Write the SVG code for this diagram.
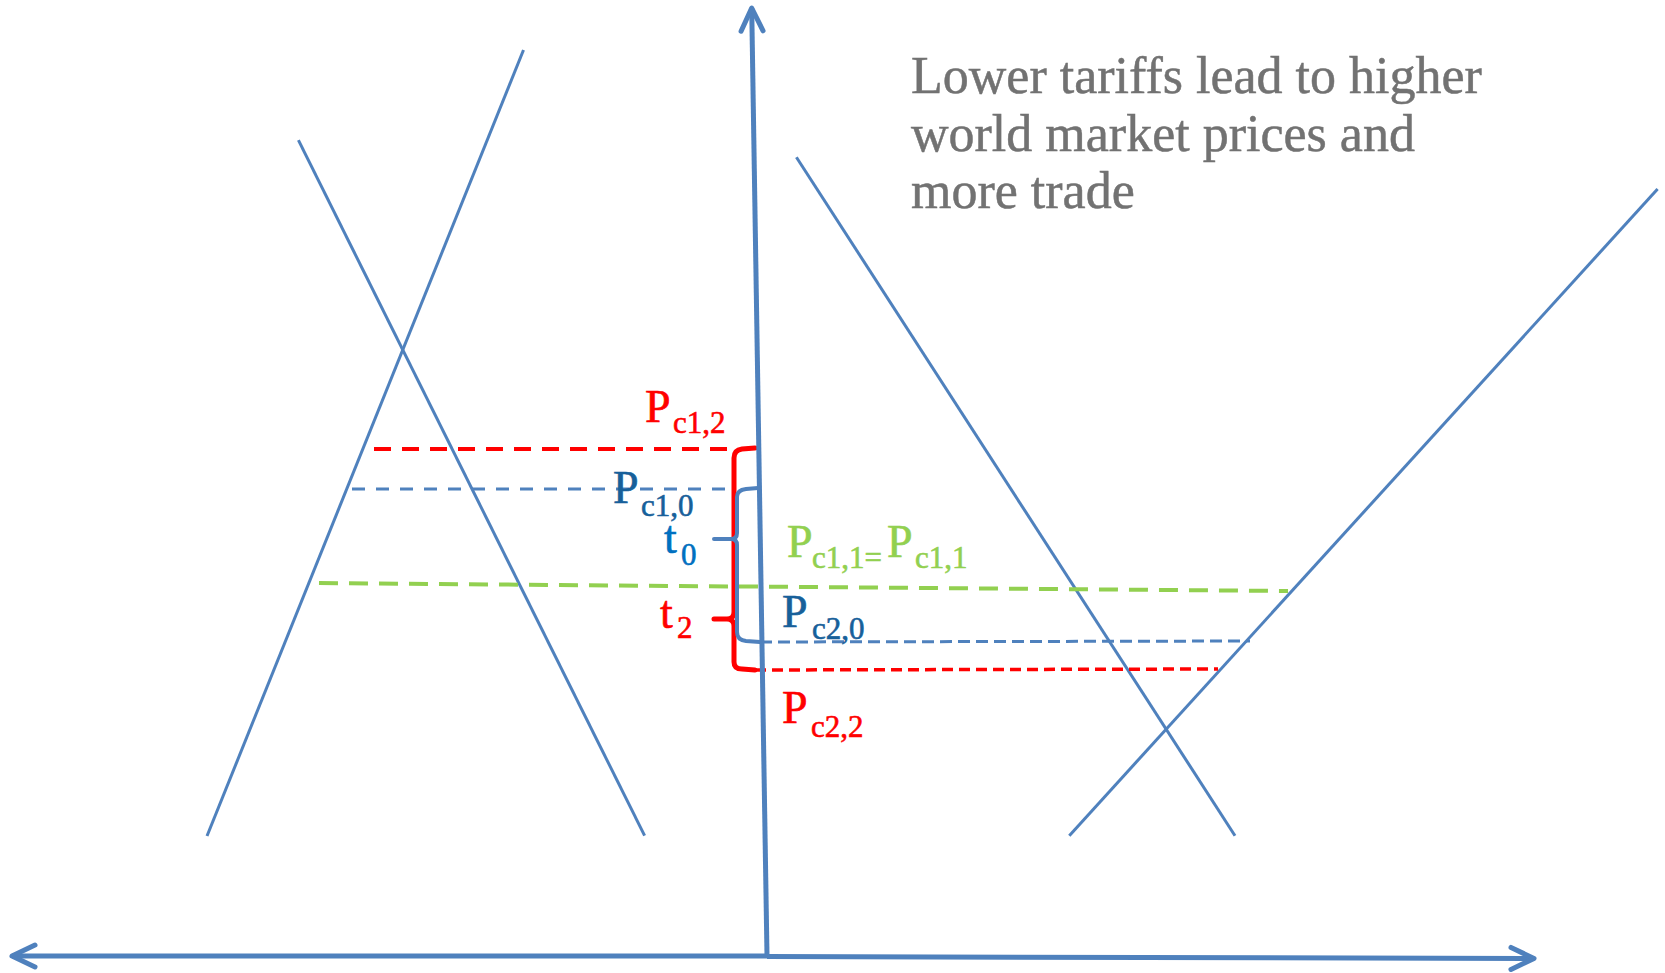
<svg xmlns="http://www.w3.org/2000/svg" width="1665" height="973" viewBox="0 0 1665 973">
<style>
.curve{stroke:#4F81BD;stroke-width:3;fill:none}
.axis{stroke:#4F81BD;stroke-width:5;fill:none}
.lbl{font-family:"Liberation Serif",serif;stroke-width:0.6px}
.big{font-size:46px}
.sub{font-size:31px}
.red{fill:#FF0000;stroke:#FF0000}
.dblue{fill:#17609A;stroke:#17609A}
.tblue{fill:#0070C0;stroke:#0070C0}
.green{fill:#92D050;stroke:#92D050}
.title{fill:#727272;stroke:#727272;stroke-width:0.5px}
</style>
<defs>
<marker id="chev" markerUnits="userSpaceOnUse" markerWidth="40" markerHeight="40" viewBox="-30 -20 40 40" refX="0" refY="0" orient="auto">
<path d="M -23 -11 L 0 0 L -23 11" fill="none" stroke="#4F81BD" stroke-width="5" stroke-linecap="round" stroke-linejoin="round"/>
</marker>
</defs>
<rect width="1665" height="973" fill="#ffffff"/>
<g id="connectors">
<line id="left-supply" class="curve" x1="207" y1="836" x2="523.5" y2="50"/>
<line id="left-demand" class="curve" x1="298.4" y1="140.2" x2="644.6" y2="835.7"/>
<line id="right-demand" class="curve" x1="796.4" y1="157.2" x2="1235" y2="835.7"/>
<line id="right-supply" class="curve" x1="1069.3" y1="835.7" x2="1657.6" y2="189"/>
<line id="pc12-line" x1="374" y1="449" x2="735" y2="449" stroke="#FF0000" stroke-width="4" stroke-dasharray="17 11"/>
<line id="pc10-line" x1="352" y1="489" x2="735" y2="489" stroke="#4F81BD" stroke-width="3" stroke-dasharray="13 11"/>
<line id="pc11-line" x1="319" y1="583" x2="1288" y2="591" stroke="#92D050" stroke-width="4" stroke-dasharray="19 11"/>
<line id="pc20-line" x1="760" y1="642" x2="1250" y2="641" stroke="#4F81BD" stroke-width="3" stroke-dasharray="12 6"/>
<line id="pc22-line" x1="755" y1="670" x2="1218" y2="669" stroke="#FF0000" stroke-width="3.5" stroke-dasharray="11 6"/>
<path id="red-brace" d="M 755 448 L 742 449 Q 734 450 734 458 L 734 612 Q 734 619 727 619 L 714 619 M 727 619 Q 734 619 734 626 L 734 662 Q 734 669 742 669 L 755 670" fill="none" stroke="#FF0000" stroke-width="5" stroke-linecap="round" stroke-linejoin="round"/>
<path id="blue-brace" d="M 758 488 L 746 489 Q 737 490 737 497 L 737 533 Q 737 539 731 539 L 714 539 M 731 539 Q 737 539 737 545 L 737 632 Q 737 640 746 641 L 760 642" fill="none" stroke="#4F81BD" stroke-width="4" stroke-linecap="round" stroke-linejoin="round"/>
<line id="y-axis" class="axis" x1="767" y1="956" x2="751.7" y2="8" marker-end="url(#chev)"/>
<line id="x-axis-left" class="axis" x1="767" y1="956" x2="12" y2="956" marker-end="url(#chev)"/>
<line id="x-axis-right" class="axis" x1="767" y1="956.5" x2="1534" y2="958.5" marker-end="url(#chev)"/>
</g>
<g id="title">
<text class="lbl title" font-size="52"><tspan x="911" y="93">Lower tariffs lead to higher</tspan><tspan x="911" y="151">world market prices and</tspan><tspan x="911" y="208">more trade</tspan></text>
</g>
<g id="label-pc12"><text class="lbl red"><tspan class="big" x="645" y="422">P</tspan><tspan class="sub" x="673" y="433">c1,2</tspan></text></g>
<g id="label-pc10"><text class="lbl dblue"><tspan class="big" x="613" y="503">P</tspan><tspan class="sub" x="641" y="516">c1,0</tspan></text></g>
<g id="label-t0"><text class="lbl tblue"><tspan class="big" x="664" y="553">t</tspan><tspan class="sub" x="681" y="565">0</tspan></text></g>
<g id="label-t2"><text class="lbl red"><tspan class="big" x="660" y="628">t</tspan><tspan class="sub" x="677" y="638">2</tspan></text></g>
<g id="label-pc11"><text class="lbl green"><tspan class="big" x="787" y="557">P</tspan><tspan class="sub" x="812" y="568">c1,1=</tspan><tspan class="big" x="887" y="557">P</tspan><tspan class="sub" x="915" y="568">c1,1</tspan></text></g>
<g id="label-pc20"><text class="lbl dblue"><tspan class="big" x="782" y="627">P</tspan><tspan class="sub" x="812" y="639">c2,0</tspan></text></g>
<g id="label-pc22"><text class="lbl red"><tspan class="big" x="782" y="723">P</tspan><tspan class="sub" x="811" y="737">c2,2</tspan></text></g>
</svg>
